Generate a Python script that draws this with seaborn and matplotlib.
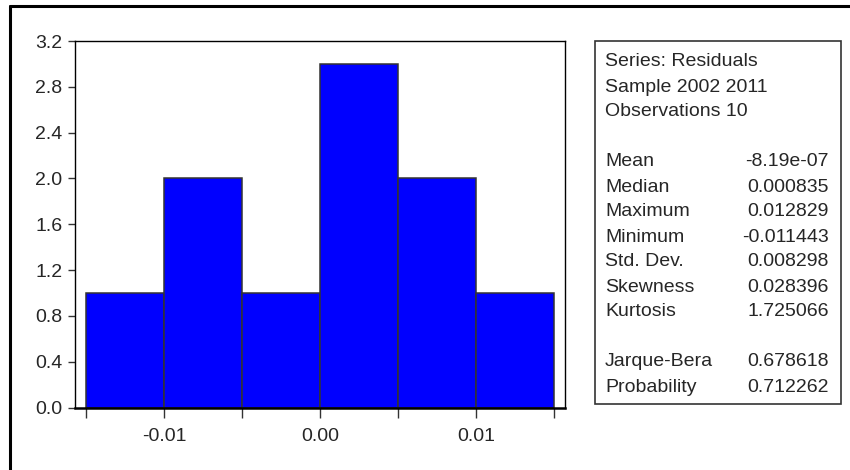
import matplotlib
matplotlib.use("Agg")
import matplotlib.pyplot as plt
from matplotlib.lines import Line2D
from matplotlib.patches import Rectangle
import seaborn as sns
import pandas as pd

# ---- data ----
bin_edges = [-0.015, -0.010, -0.005, 0.000, 0.005, 0.010, 0.015]
bin_centers = [-0.0125, -0.0075, -0.0025, 0.0025, 0.0075, 0.0125]
counts = [1, 2, 1, 3, 2, 1]
y_ticks = [0.0, 0.4, 0.8, 1.2, 1.6, 2.0, 2.4, 2.8, 3.2]
x_major_ticks = [-0.01, 0.00, 0.01]
x_major_labels = ["-0.01", "0.00", "0.01"]
x_minor_ticks = [-0.015, -0.005, 0.005, 0.015]
header_lines = ["Series: Residuals", "Sample 2002 2011", "Observations 10"]
stat_names = ["Mean", "Median", "Maximum", "Minimum", "Std. Dev.", "Skewness", "Kurtosis"]
stat_values = ["-8.19e-07", "0.000835", "0.012829", "-0.011443", "0.008298", "0.028396", "1.725066"]
test_names = ["Jarque-Bera", "Probability"]
test_values = ["0.678618", "0.712262"]

sns.set_style("white")
plt.rcParams["font.family"] = ["Liberation Sans", "DejaVu Sans"]

W, H = 850, 470
fig = plt.figure(figsize=(W / 100, H / 100), dpi=100)

ax = fig.add_axes([75 / W, 1 - 407.5 / H, (565 - 75) / W, (407.5 - 41) / H])
df = pd.DataFrame({"x": bin_centers, "n": counts})
sns.histplot(data=df, x="x", weights="n", bins=bin_edges, ax=ax,
             color="#0000FF", alpha=1.0, edgecolor="#333333", linewidth=1.1)

ax.set_xlim(-0.0157, 0.0157)
ax.set_ylim(0, 3.2)
ax.set_yticks(y_ticks)
ax.set_yticklabels([f"{v:.1f}" for v in y_ticks])
ax.set_xticks(x_major_ticks)
ax.set_xticklabels(x_major_labels)
ax.set_xticks(x_minor_ticks, minor=True)
ax.set_xlabel("")
ax.set_ylabel("")
for s in ax.spines.values():
    s.set_visible(True)
    s.set_color("black")
    s.set_linewidth(1.0)
ax.spines["bottom"].set_linewidth(1.8)
ax.tick_params(axis="y", which="major", direction="out", length=5, width=1,
               color="#333333", labelsize=14, pad=4, left=True)
ax.tick_params(axis="x", which="both", direction="out", length=7, width=1,
               color="#333333", labelsize=14, pad=8, bottom=True)
ax.grid(False)

# outer frame (top and left edges)
fig.add_artist(Line2D([9.5 / W, 1.0], [1 - 6 / H, 1 - 6 / H], transform=fig.transFigure,
                      color="black", linewidth=2.2))
fig.add_artist(Line2D([9.5 / W, 9.5 / W], [0.0, 1 - 6 / H], transform=fig.transFigure,
                      color="black", linewidth=2.2))

# stats box
bx0, bx1, by0, by1 = 595, 841, 41, 404
fig.add_artist(Rectangle((bx0 / W, 1 - by1 / H), (bx1 - bx0) / W, (by1 - by0) / H,
                         transform=fig.transFigure, fill=False,
                         edgecolor="#333333", linewidth=1.2))

row0, step = 62, 25.0
lx, rx = 605 / W, 829 / W
fs = 14

def ypos(i):
    return 1 - (row0 + step * i) / H

for i, t in enumerate(header_lines):
    fig.text(lx, ypos(i), t, ha="left", va="center", fontsize=fs)
for j, (n, v) in enumerate(zip(stat_names, stat_values)):
    fig.text(lx, ypos(4 + j), n, ha="left", va="center", fontsize=fs)
    fig.text(rx, ypos(4 + j), v, ha="right", va="center", fontsize=fs)
for j, (n, v) in enumerate(zip(test_names, test_values)):
    fig.text(lx, ypos(12 + j), n, ha="left", va="center", fontsize=fs)
    fig.text(rx, ypos(12 + j), v, ha="right", va="center", fontsize=fs)

fig.savefig("out.png", dpi=100, facecolor="white")
